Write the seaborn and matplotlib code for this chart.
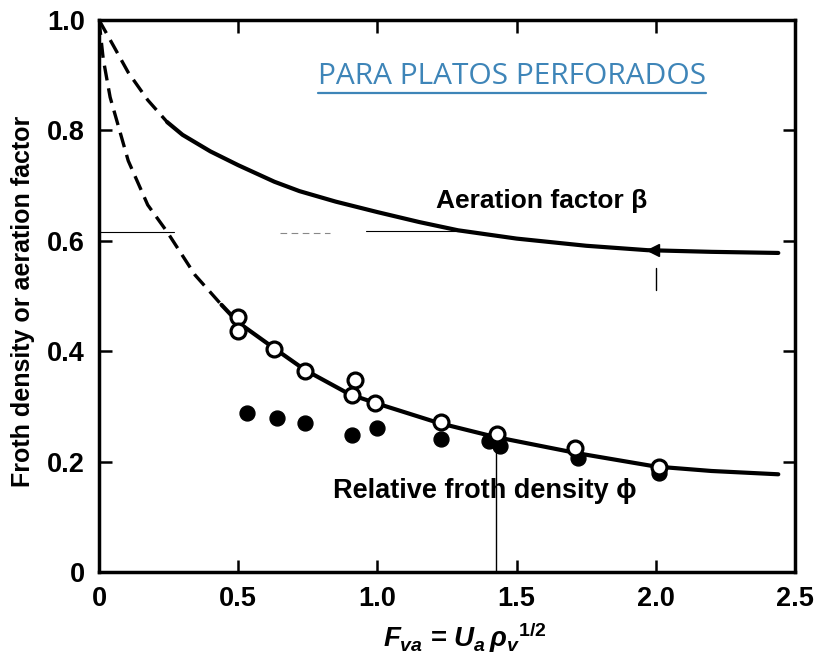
import numpy as np
import pandas as pd
import matplotlib
matplotlib.use('Agg')
import matplotlib.pyplot as plt
from matplotlib.lines import Line2D
import seaborn as sns

# Curves (dashed = extrapolated part)
beta_dash_x = [0.0, 0.05, 0.105, 0.175, 0.245]
beta_dash_y = [1.0, 0.955, 0.905, 0.855, 0.815]
beta_x = [0.245, 0.3, 0.4, 0.5, 0.63, 0.72, 0.85, 1.0, 1.15, 1.29, 1.5, 1.75, 1.97, 2.2, 2.44]
beta_y = [0.815, 0.792, 0.762, 0.737, 0.707, 0.69, 0.671, 0.652, 0.634, 0.619, 0.604, 0.591, 0.583, 0.580, 0.578]

phi_dash_x = [0.0, 0.015, 0.04, 0.105, 0.175, 0.245, 0.345, 0.44]
phi_dash_y = [1.0, 0.93, 0.86, 0.745, 0.665, 0.616, 0.538, 0.484]
phi_x = [0.44, 0.5, 0.63, 0.74, 0.9, 1.0, 1.22, 1.42, 1.72, 2.0, 2.2, 2.44]
phi_y = [0.484, 0.452, 0.405, 0.366, 0.322, 0.305, 0.270, 0.245, 0.215, 0.191, 0.183, 0.177]

# Experimental points
open_x = [0.5, 0.5, 0.63, 0.74, 0.92, 0.91, 0.99, 1.23, 1.43, 1.71, 2.01]
open_y = [0.462, 0.437, 0.404, 0.364, 0.347, 0.320, 0.306, 0.272, 0.250, 0.224, 0.191]
filled_x = [0.53, 0.64, 0.74, 0.91, 1.0, 1.23, 1.40, 1.44, 1.72, 2.01]
filled_y = [0.288, 0.279, 0.270, 0.248, 0.261, 0.241, 0.237, 0.228, 0.207, 0.180]

xtick_vals = [0, 0.5, 1.0, 1.5, 2.0, 2.5]
xtick_labels = ['0', '0.5', '1.0', '1.5', '2.0', '2.5']
ytick_vals = [0, 0.2, 0.4, 0.6, 0.8, 1.0]
ytick_labels = ['0', '0.2', '0.4', '0.6', '0.8', '1.0']

sns.set_style('ticks')
plt.rcParams['font.family'] = ['Liberation Sans', 'DejaVu Sans']
plt.rcParams.update({
    'text.color': 'black', 'axes.labelcolor': 'black',
    'xtick.color': 'black', 'ytick.color': 'black', 'axes.edgecolor': 'black',
    'mathtext.fontset': 'custom',
    'mathtext.rm': 'Liberation Sans:bold',
    'mathtext.it': 'Liberation Sans:bold:italic',
    'mathtext.bf': 'Liberation Sans:bold',
})

fig = plt.figure(figsize=(8.19, 6.62), dpi=100)
ax = fig.add_axes([99 / 819, 1 - 572 / 662, (795 - 99) / 819, (572 - 20) / 662])

lw = 3.0
dash = (0, (4.5, 2.4))
sns.lineplot(x=beta_dash_x, y=beta_dash_y, ax=ax, color='black', lw=2.4,
             linestyle=dash, sort=False)
sns.lineplot(x=beta_x, y=beta_y, ax=ax, color='black', lw=lw, sort=False)
sns.lineplot(x=phi_dash_x, y=phi_dash_y, ax=ax, color='black', lw=2.4,
             linestyle=dash, sort=False)
sns.lineplot(x=phi_x, y=phi_y, ax=ax, color='black', lw=lw, sort=False)

# stray construction lines from the scanned figure
ax.plot([0.0, 0.27], [0.616, 0.616], color='black', lw=0.8)
ax.plot([0.65, 0.83], [0.614, 0.614], color='#888888', lw=0.8, linestyle=(0, (6, 4)))
ax.plot([0.96, 1.3], [0.617, 0.617], color='black', lw=0.8)
ax.plot([1.425, 1.425], [0.0, 0.245], color='black', lw=1.0)
ax.plot([2.0, 2.0], [0.51, 0.55], color='black', lw=1.0)
ax.plot([1.99], [0.584], marker='<', color='black', ms=8)

sns.scatterplot(x=filled_x, y=filled_y, ax=ax, color='black', s=115,
                edgecolor='black', linewidth=1, zorder=5)
sns.scatterplot(x=open_x, y=open_y, ax=ax, facecolor='white', s=115,
                edgecolor='black', linewidth=2.3, zorder=6)

ax.set_xlim(0, 2.5)
ax.set_ylim(0, 1.0)
ax.set_xticks(xtick_vals)
ax.set_xticklabels(xtick_labels)
ax.set_yticks(ytick_vals)
ax.set_yticklabels(ytick_labels)
ax.tick_params(direction='in', length=9, width=1.8, top=True, right=True,
               labelsize=19.5, pad=10)
for lab in ax.get_xticklabels() + ax.get_yticklabels():
    lab.set_fontweight('bold')
for sp in ax.spines.values():
    sp.set_visible(True)
    sp.set_linewidth(2.5)

ax.set_ylabel('Froth density or aeration factor', fontsize=18,
              fontweight='bold')
ax.yaxis.set_label_coords(-0.092, 0.49)

fig.text(465 / 819, 1 - 638 / 662, r'$F_{va}$ = $U_a\,\rho_v$$^{1/2}$',
         ha='center', va='center', fontsize=20, fontweight='bold')

ax.text(1.59, 0.672, 'Aeration factor β', ha='center', va='center',
        fontsize=19, fontweight='bold')
ax.text(1.385, 0.146, 'Relative froth density ϕ', ha='center', va='center',
        fontsize=19.5, fontweight='bold')

# title with underline
title_col = '#3E85B8'
t = fig.text(512 / 819, 1 - 77 / 662, 'PARA PLATOS PERFORADOS', ha='center',
             va='center', fontsize=21.5, color=title_col,
             family=['Open Sans', 'DejaVu Sans'])
fig.canvas.draw()
bb = t.get_window_extent().transformed(fig.transFigure.inverted())
fig.add_artist(Line2D([bb.x0, bb.x1], [bb.y0 - 0.002, bb.y0 - 0.002],
                      transform=fig.transFigure, color=title_col, lw=1.6))

fig.savefig('out.png', dpi=100)
